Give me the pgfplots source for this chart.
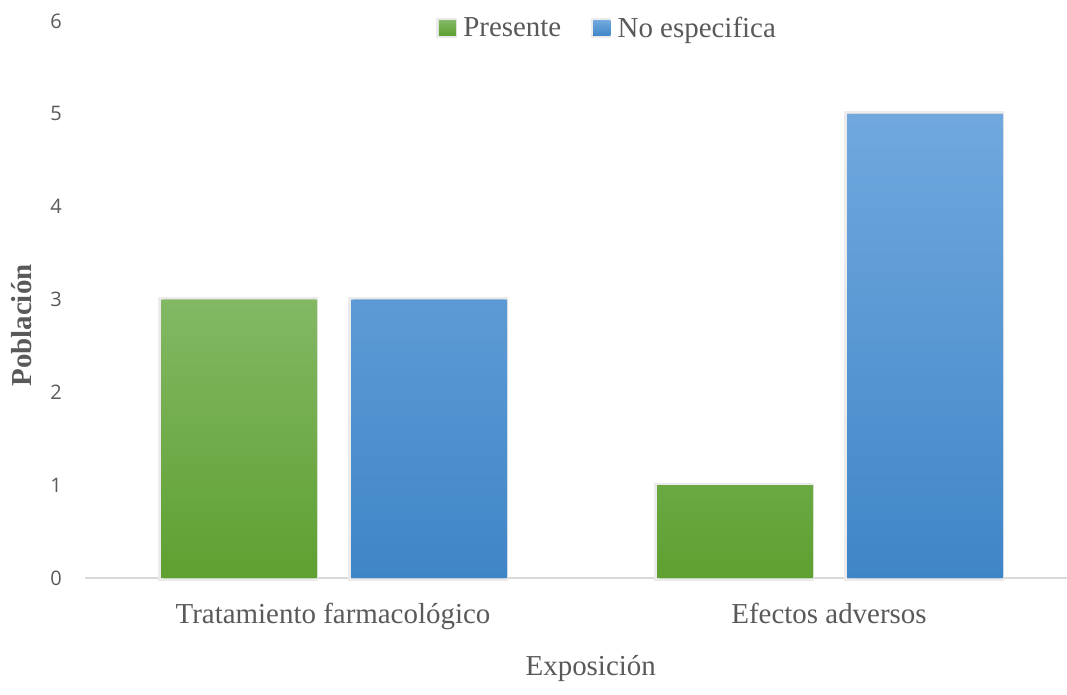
\documentclass[border=0pt]{standalone}
\usepackage{fontspec}
\setmainfont{Liberation Serif}
\newfontfamily\tickfont{Open Sans}
\usepackage{pgfplots}
\pgfplotsset{compat=1.18}

\definecolor{txt}{HTML}{595959}
\definecolor{axisgray}{HTML}{D9D9D9}
\definecolor{greentop}{HTML}{83B864}
\definecolor{greenbot}{HTML}{5EA031}
\definecolor{bluetop}{HTML}{70A8DE}
\definecolor{bluebot}{HTML}{3F86C7}

\begin{document}
\begin{tikzpicture}[x=0.75pt,y=0.75pt]
\begin{axis}[
    at={(0,0)}, anchor=south west,
    scale only axis,
    width=736.5pt, height=417.75pt,
    ybar=27pt, bar width=115.5pt,
    xmin=-0.5, xmax=1.4798,
    ymin=0, ymax=6,
    xtick={0,1},
    xticklabels={Tratamiento farmacológico, Efectos adversos},
    ytick={0,1,2,3,4,5,6},
    /pgf/number format/assume math mode=true,
    major tick length=0pt,
    axis x line*=bottom, axis y line*=left,
    x axis line style={draw=axisgray, line width=1.5pt},
    y axis line style={draw=none},
    xticklabel style={font=\fontsize{21.7}{24}\selectfont, text=txt, anchor=base, inner sep=0pt, yshift=-33.75pt},
    yticklabel style={font=\tickfont\fontsize{15}{18}\selectfont, text=txt, anchor=east, inner sep=0pt, xshift=-17.25pt},
    xlabel={Exposición},
    ylabel={\textbf{Población}},
    every axis x label/.style={at={(rel axis cs:0.515,0)}, anchor=base, yshift=-72.75pt, font=\fontsize{21.7}{24}\selectfont, text=txt},
    every axis y label/.style={at={(rel axis cs:0,0.4533)}, anchor=center, rotate=90, yshift=47.25pt, font=\fontsize{21.7}{24}\selectfont, text=txt},
    legend style={at={(rel axis cs:0.532,0.987)}, anchor=center, draw=none, fill=none,
        font=\fontsize{21.7}{24}\selectfont, text=txt,
        /tikz/every odd column/.append style={column sep=3pt},
        /tikz/every even column/.append style={column sep=20pt}},
    legend columns=-1,
    legend image code/.code={\fill[#1] (0pt,-5.6pt) rectangle (11.25pt,5.6pt);},
    clip=false,
]
\addplot[draw=none, top color=greentop, bottom color=greenbot,
    preaction={draw=black!8, line width=4pt},
    preaction={fill=black!22, transform canvas={xshift=1.6pt}}]
    coordinates {(0,3) (1,1)};
\addlegendentry{Presente}
\addplot[draw=none, top color=bluetop, bottom color=bluebot,
    preaction={draw=black!8, line width=4pt},
    preaction={fill=black!22, transform canvas={xshift=1.6pt}}]
    coordinates {(0,3) (1,5)};
\addlegendentry{No especifica}
\end{axis}
\pgfresetboundingbox
\path[use as bounding box] (-85,-116) rectangle (982,578);
\end{tikzpicture}
\end{document}
